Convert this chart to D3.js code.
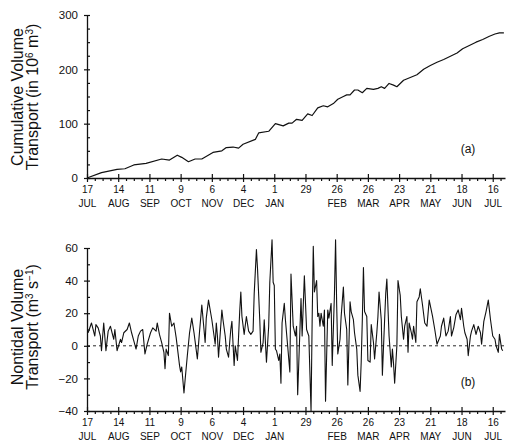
<!DOCTYPE html>
<html>
<head>
<meta charset="utf-8">
<script src="https://cdn.jsdelivr.net/npm/d3@7"></script>
<style>
  body { margin: 0; background: #fff; }
  text { font-family: "Liberation Sans", Arial, sans-serif; fill: #111; }
</style>
</head>
<body>
<svg id="chart"></svg>
<script>
const width = 506, height = 443;

// x axis: days since 17 Jul, major ticks every 28 days
const tickDays = [0, 28, 56, 84, 112, 140, 168, 196, 224, 252, 280, 308, 336, 364];
const tickNums = ["17", "14", "11", "9", "6", "4", "1", "29", "26", "26", "23", "21", "18", "16"];
const tickMonths = ["JUL", "AUG", "SEP", "OCT", "NOV", "DEC", "JAN", "", "FEB", "MAR", "APR", "MAY", "JUN", "JUL"];

// (a) cumulative volume transport, 10^6 m^3
const cumDays = [0, 13, 27, 34, 42, 53, 67, 74, 81, 85, 91, 97, 103, 113, 121, 125, 131, 136, 140, 151, 154, 163,
  169, 176, 181, 184, 188, 193, 198, 202, 207, 212, 216, 221, 225, 230, 233, 236, 240, 243, 247, 251, 257, 261,
  264, 267, 271, 275, 278, 284, 290, 296, 302, 308, 314, 320, 326, 332, 337, 343, 349, 355, 361, 366, 370, 374];
const cumVals = [0, 10, 16, 17, 24, 27, 35, 33, 42, 38, 30, 35, 35, 47, 50, 56, 57, 55, 62, 71, 83, 86,
  100, 96, 101, 101, 108, 106, 118, 115, 129, 133, 131, 137, 145, 150, 153, 153, 162, 162, 157, 165, 163, 165,
  168, 165, 174, 171, 168, 180, 185, 190, 200, 207, 213, 218, 224, 230, 238, 244, 250, 255, 261, 265, 267, 267];

// (b) nontidal volume transport, m^3 s^-1
const ntDays = [1, 3, 4, 7, 8, 10, 12, 13, 15, 17, 19, 21, 24, 25, 27, 30, 31, 33, 36, 38, 40, 42, 44, 46, 48, 50,
  52, 54, 57, 59, 62, 63, 65, 67, 69, 70, 71, 73, 74, 76, 78, 80, 83, 84, 85, 87, 88, 90, 92, 94, 96, 99, 101, 103,
  106, 107, 109, 112, 114, 115, 116, 117, 118, 121, 122, 124, 125, 127, 128, 129, 130, 132, 133, 135, 137, 138, 139,
  141, 143, 145, 147, 149, 150, 152, 153, 155, 156, 158, 159, 161, 163, 164, 166, 167, 168, 169, 170, 172, 173, 174,
  175, 177, 178, 180, 182, 183, 185, 187, 188, 189, 192, 193, 195, 197, 199, 201, 202, 203, 204, 206, 207, 208, 209,
  210, 212, 213, 214, 216, 217, 219, 220, 222, 223, 224, 225, 227, 228, 230, 231, 233, 234, 236, 237, 239, 240, 242,
  243, 245, 246, 247, 248, 249, 251, 252, 254, 255, 257, 258, 260, 261, 262, 264, 265, 267, 268, 269, 271, 273, 274,
  275, 276, 278, 279, 281, 282, 284, 285, 287, 288, 289, 291, 292, 293, 295, 296, 298, 299, 301, 303, 305, 307, 310,
  312, 314, 317, 318, 320, 322, 324, 326, 327, 329, 331, 333, 335, 336, 338, 339, 341, 342, 344, 345, 347, 349, 351,
  353, 354, 356, 358, 360, 362, 364, 366, 367, 369, 370, 372, 373];
const ntVals = [8, 12, 14, 6, 13, 11, 6, -3, 14, -3, 9, 12, 4, 10, -3, 4, 2, 8, 10, 14, 8, 3, -2, 6, 9, 10,
  -5, 1, 8, 11, 9, 14, 7, 2, -4, -14, -2, -6, 20, 12, 14, 5, -12, -16, -13, -29, -21, -6, 8, 17, 8, -8, 9, 25,
  2, 17, 28, 16, 6, 1, 14, 6, -7, 22, 16, 6, -2, -7, 2, 10, 15, -12, 0, -9, 21, 33, 18,
  7, 18, 9, 7, 9, 32, 59, 47, 16, -4, 2, 16, -10, 12, 39, 65, 39, 37, -2, -3, -9, -5, -23,
  14, 26, 16, 0, -16, 44, 12, 6, 12, -30, 29, 6, 43, 10, 6, -40, 16, 61, 33, 40, 18, 20, 12,
  20, 12, 22, -34, 22, 17, 26, -12, 32, 65, 25, -5, 4, 18, 36, 20, 10, -24, 27, 21, 16, 8, -2,
  -18, -28, -10, 16, 48, 21, 18, -9, -10, 13, 2, -8, 8, 18, 33, 16, -18, 16, 32, 41, 6, -13, -2,
  -11, -23, 0, 40, 31, 18, 4, 12, 18, -4, 14, 8, 4, 12, 2, 27, 30, 35, 25, 14, 12, 28, 18,
  10, 1, 6, 12, 17, 6, 9, 18, 6, 11, 19, 22, 16, 23, 12, 8, 4, -6, 6, 9, 13, 7, 12,
  8, 1, 15, 21, 28, 16, 6, 4, 0, -4, 7, -2, -3];

const topMajor = [0, 100, 200, 300];
const topMinor = [25, 50, 75, 125, 150, 175, 225, 250, 275];
const botMajor = [-40, -20, 0, 20, 40, 60];
const botMinor = [-30, -10, 10, 30, 50];
const minorDays = d3.range(7, 375, 7).filter(d => d % 28 !== 0);

const svg = d3.select("#chart").attr("width", width).attr("height", height);

const x = d3.scaleLinear().domain([0, 375]).range([87, 505]);
const yTop = d3.scaleLinear().domain([0, 300]).range([178, 15]);
const yBot = d3.scaleLinear().domain([-40, 60]).range([411, 248]);

const styleAxis = g => {
    g.selectAll("path.domain").attr("stroke", "#111").attr("stroke-width", 1.3);
    g.selectAll(".tick line").attr("stroke", "#111").attr("stroke-width", 1.2);
};

const drawXAxis = (yPos) => {
    const g = svg.append("g").attr("transform", `translate(0,${yPos})`)
        .call(d3.axisBottom(x).tickValues(tickDays).tickSizeInner(4).tickSizeOuter(0).tickPadding(4)
            .tickFormat((d, i) => tickNums[i]));
    g.selectAll(".tick line").attr("y1", -4);
    g.selectAll(".tick text").attr("font-size", 10).attr("font-family", null);
    g.selectAll(".tick").append("text")
        .attr("fill", "#111")
        .attr("y", 8)
        .attr("dy", "2.05em")
        .attr("font-size", 10)
        .text((d, i) => tickMonths[i]);
    styleAxis(g);

    const m = svg.append("g").attr("transform", `translate(0,${yPos})`)
        .call(d3.axisBottom(x).tickValues(minorDays).tickSize(3).tickFormat(""));
    m.select(".domain").remove();
    styleAxis(m);
};

const drawYAxis = (y, major, minor) => {
    const g = svg.append("g").attr("transform", `translate(${x(0)},0)`)
        .call(d3.axisLeft(y).tickValues(major).tickSizeInner(3).tickSizeOuter(0).tickPadding(6)
            .tickFormat(d => d < 0 ? "\u2212" + Math.abs(d) : d));
    g.selectAll(".tick line").attr("x1", 3);
    g.selectAll(".tick text").attr("font-size", 11.5).attr("font-family", null);
    styleAxis(g);

    const m = svg.append("g").attr("transform", `translate(${x(0)},0)`)
        .call(d3.axisLeft(y).tickValues(minor).tickSize(-3).tickFormat(""));
    m.select(".domain").remove();
    styleAxis(m);
};

// panel (a)
drawXAxis(yTop(0));
drawYAxis(yTop, topMajor, topMinor);

svg.append("path")
    .datum(d3.zip(cumDays, cumVals))
    .attr("fill", "none")
    .attr("stroke", "#111")
    .attr("stroke-width", 1.2)
    .attr("stroke-linejoin", "round")
    .attr("d", d3.line().x(d => x(d[0])).y(d => yTop(d[1])));

svg.append("text").attr("x", 468).attr("y", 153).attr("text-anchor", "middle")
    .attr("font-size", 12).text("(a)");

// panel (b)
drawXAxis(yBot(-40));
drawYAxis(yBot, botMajor, botMinor);

svg.append("line")
    .attr("x1", x(0)).attr("x2", x(375))
    .attr("y1", yBot(0)).attr("y2", yBot(0))
    .attr("stroke", "#111").attr("stroke-width", 0.9)
    .attr("stroke-dasharray", "3,3");

svg.append("path")
    .datum(d3.zip(ntDays, ntVals))
    .attr("fill", "none")
    .attr("stroke", "#111")
    .attr("stroke-width", 1.1)
    .attr("stroke-linejoin", "round")
    .attr("d", d3.line().x(d => x(d[0])).y(d => yBot(d[1])));

svg.append("text").attr("x", 468).attr("y", 386).attr("text-anchor", "middle")
    .attr("font-size", 12).text("(b)");

// y titles
const yTitle = (cy, line1, line2parts) => {
    svg.append("text")
        .attr("transform", `translate(23,${cy}) rotate(-90)`)
        .attr("text-anchor", "middle").attr("font-size", 16)
        .text(line1);
    const t = svg.append("text")
        .attr("transform", `translate(38,${cy}) rotate(-90)`)
        .attr("text-anchor", "middle").attr("font-size", 16);
    line2parts.forEach(p => {
        t.append("tspan")
            .attr("font-size", p.sup ? 10 : 16)
            .attr("baseline-shift", p.sup ? "55%" : null)
            .text(p.t);
    });
};

yTitle(97, "Cumulative Volume", [
    { t: "Transport (in 10" }, { t: "6", sup: true }, { t: " m" }, { t: "3", sup: true }, { t: ")" }
]);
yTitle(327, "Nontidal Volume", [
    { t: "Transport (m" }, { t: "3", sup: true }, { t: " s" }, { t: "\u22121", sup: true }, { t: ")" }
]);
</script>
</body>
</html>
